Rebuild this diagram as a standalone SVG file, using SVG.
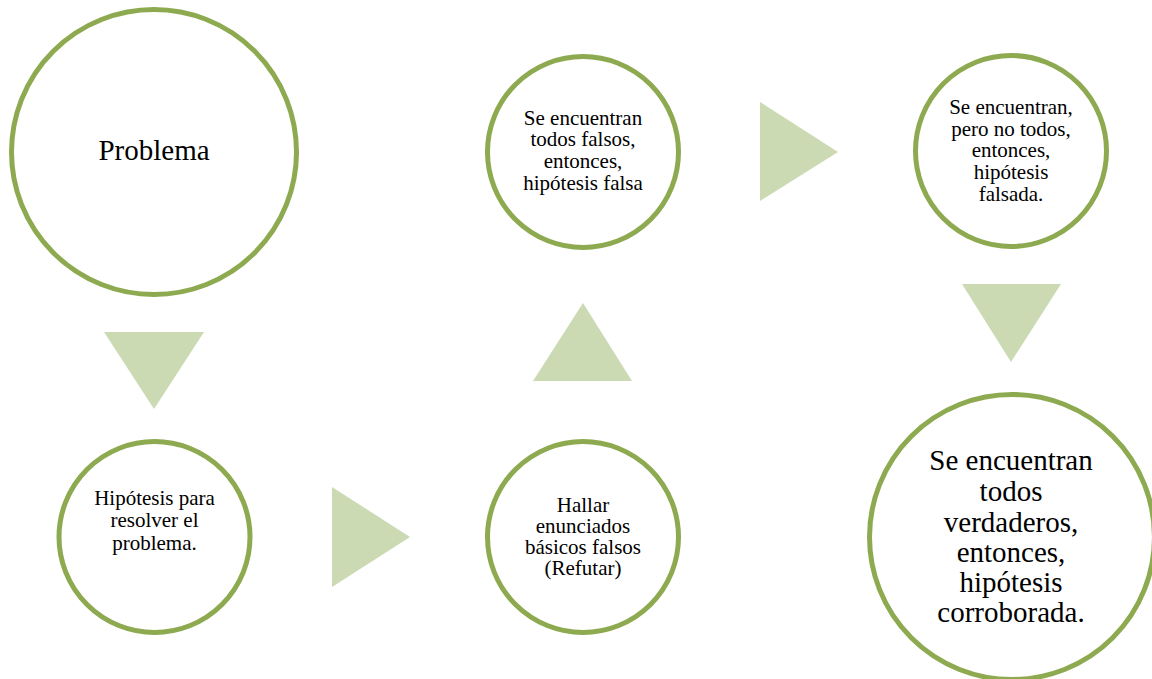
<svg xmlns="http://www.w3.org/2000/svg" width="1152" height="679" viewBox="0 0 1152 679">
<style>
.node circle{fill:#fff;stroke:#8eaa50;stroke-width:5}
.arrow{fill:#cbdab3;stroke:none}
text{font-family:"Liberation Serif","Times New Roman",serif;fill:#000;text-anchor:middle}
.s{font-size:21px}
.l{font-size:29px}
</style>
<rect width="1152" height="679" fill="#fff"/>
<g id="connectors">
<polygon class="arrow" points="104,332 204,332 154,409"/>
<polygon class="arrow" points="332,487 332,587 410,537"/>
<polygon class="arrow" points="533,381 632,381 583,303"/>
<polygon class="arrow" points="760,102 760,201 838,152"/>
<polygon class="arrow" points="962,284 1061,284 1011,362"/>
</g>
<g id="n-problema" class="node">
<circle cx="154" cy="152" r="142.5"/>
<text class="l" x="154" y="160">Problema</text>
</g>
<g id="n-hipotesis" class="node">
<circle cx="154.5" cy="537" r="95.5"/>
<text class="s" x="154.5" y="505">Hipótesis para</text>
<text class="s" x="154.5" y="527">resolver el</text>
<text class="s" x="154.5" y="550">problema.</text>
</g>
<g id="n-hallar" class="node">
<circle cx="583" cy="537" r="95.5"/>
<text class="s" x="583" y="512">Hallar</text>
<text class="s" x="583" y="533">enunciados</text>
<text class="s" x="583" y="554">básicos falsos</text>
<text class="s" x="583" y="575">(Refutar)</text>
</g>
<g id="n-falsa" class="node">
<circle cx="583" cy="152" r="95.5"/>
<text class="s" x="583" y="125">Se encuentran</text>
<text class="s" x="583" y="146">todos falsos,</text>
<text class="s" x="583" y="168">entonces,</text>
<text class="s" x="583" y="190">hipótesis falsa</text>
</g>
<g id="n-falsada" class="node">
<circle cx="1011" cy="151" r="95.5"/>
<text class="s" x="1011" y="114">Se encuentran,</text>
<text class="s" x="1011" y="136">pero no todos,</text>
<text class="s" x="1011" y="157">entonces,</text>
<text class="s" x="1011" y="179">hipótesis</text>
<text class="s" x="1011" y="201">falsada.</text>
</g>
<g id="n-corroborada" class="node">
<circle cx="1012" cy="537" r="142.5"/>
<text class="l" x="1011" y="470">Se encuentran</text>
<text class="l" x="1011" y="501">todos</text>
<text class="l" x="1011" y="532">verdaderos,</text>
<text class="l" x="1011" y="562">entonces,</text>
<text class="l" x="1011" y="592">hipótesis</text>
<text class="l" x="1011" y="622">corroborada.</text>
</g>
</svg>
